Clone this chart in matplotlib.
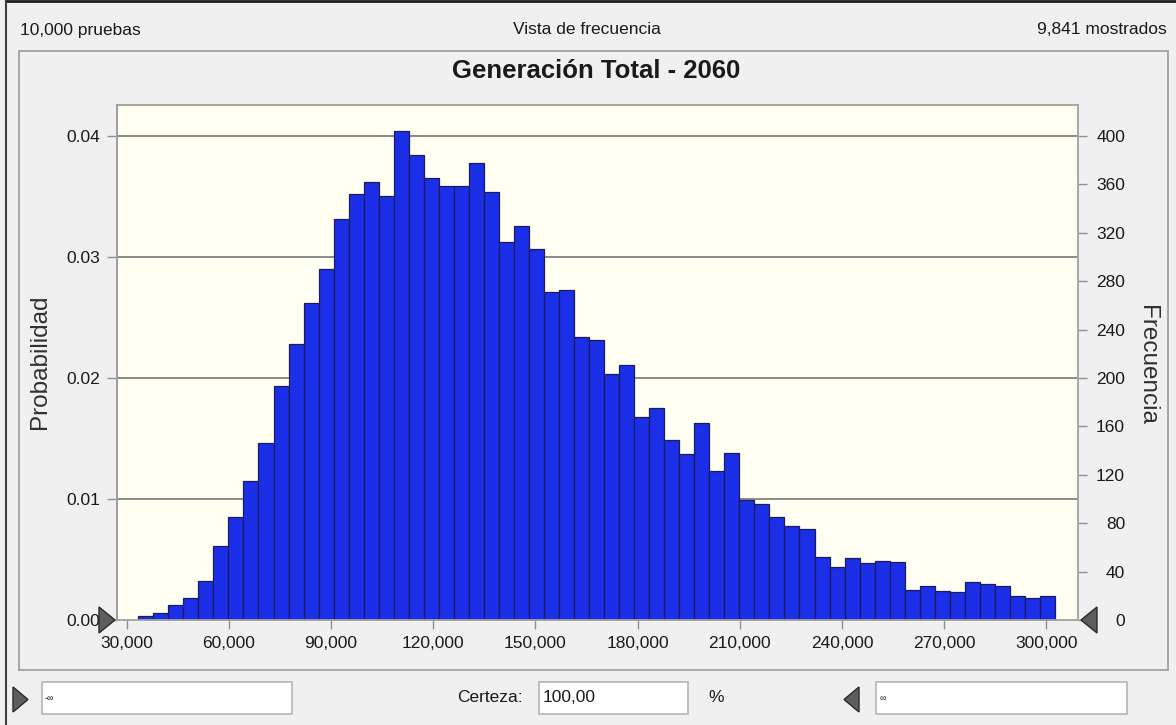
import matplotlib
matplotlib.use("Agg")
import matplotlib.pyplot as plt
import numpy as np
from matplotlib.lines import Line2D
from matplotlib.patches import Polygon, Rectangle

plt.rcParams["font.family"] = ["Liberation Sans", "DejaVu Sans"]

# histogram
trials = 10000
shown = 9841
bin_start = 33400
bin_width = 4412
counts = [3, 6, 12, 18, 32, 61, 85, 115, 146, 193,
          228, 262, 290, 331, 352, 362, 350, 404, 384, 365,
          359, 359, 378, 354, 312, 326, 307, 271, 273, 234,
          231, 203, 211, 168, 175, 149, 137, 163, 123, 138,
          99, 96, 85, 78, 75, 52, 44, 51, 47, 49,
          48, 25, 28, 24, 23, 31, 30, 28, 20, 18, 20]
x_ticks = [30000, 60000, 90000, 120000, 150000, 180000, 210000, 240000, 270000, 300000]
freq_ticks = [0, 40, 80, 120, 160, 200, 240, 280, 320, 360, 400]
prob_ticks = [0.0, 0.01, 0.02, 0.03, 0.04]
grid_counts = [100, 200, 300, 400]
title = "Generación Total - 2060"
certainty = "100,00"

W, H = 1176, 725
BG, GRAY, TXT = "#f0f0f0", "#a0a0a0", "#1a1a1a"


def fx(x):
    return x / W


def fy(y):
    return 1 - y / H


fig = plt.figure(figsize=(W / 100, H / 100), dpi=100, facecolor=BG)

# window frame + inner panel
fig.add_artist(Line2D([fx(6), 1], [fy(1), fy(1)], color="#202020", lw=2))
fig.add_artist(Line2D([fx(6), fx(6)], [fy(1), 0], color="#404040", lw=1.5))
fig.add_artist(Rectangle((fx(19), fy(670)), (1168 - 19) / W, (670 - 51) / H,
                         fill=False, edgecolor=GRAY, lw=1.3))

# header
fig.text(fx(20), fy(30), f"{trials:,} pruebas", ha="left", va="center", size=12.5, color=TXT)
fig.text(fx(587), fy(30), "Vista de frecuencia", ha="center", va="center", size=12.5, color=TXT)
fig.text(fx(1167), fy(30), f"{shown:,} mostrados", ha="right", va="center", size=12.5, color=TXT)
fig.text(fx(596), fy(71), title, ha="center", va="center", size=18.5,
         weight="bold", color=TXT)

# main histogram
ax = fig.add_axes([fx(116.7), fy(620), (1078 - 116.7) / W, (620 - 105) / H])
ax.set_facecolor("#fffff2")
edges = bin_start + bin_width * np.arange(len(counts))
ax.bar(edges, counts, width=bin_width, align="edge", color="#1b2fe8",
       edgecolor="#1c1c5c", linewidth=0.9, zorder=2)
for c in grid_counts:
    ax.axhline(c, color="#8a8a8a", lw=1.4, zorder=1)
ax.set_xlim(27064, 309300)
ax.set_ylim(0, 425.6)
for s in ax.spines.values():
    s.set_color(GRAY)
    s.set_linewidth(1.3)

ax.set_xticks(x_ticks)
ax.set_xticklabels([f"{v:,}" for v in x_ticks])
ax.tick_params(axis="x", length=6.5, width=1, color="#909090", pad=5,
               labelsize=12.5, labelcolor=TXT)

ax.yaxis.tick_right()
ax.set_yticks(freq_ticks)
ax.set_yticklabels([str(v) for v in freq_ticks])
ax.tick_params(axis="y", length=6.5, width=1, color="#909090", pad=27.4,
               labelsize=12.5, labelcolor=TXT)
for lab in ax.get_yticklabels():
    lab.set_horizontalalignment("right")

sec = ax.secondary_yaxis("left", functions=(lambda c: c / trials, lambda p: p * trials))
sec.set_yticks(prob_ticks)
sec.set_yticklabels([f"{p:.2f}" for p in prob_ticks])
sec.tick_params(length=7.2, width=1, color="#909090", pad=5, labelsize=12.5,
                labelcolor=TXT)
sec.spines["left"].set_color(GRAY)
sec.spines["left"].set_linewidth(1.3)

fig.text(fx(40), fy(362), "Probabilidad", rotation=90, ha="center", va="center",
         size=17.5, color="#303030")
fig.text(fx(1147), fy(365), "Frecuencia", rotation=-90, ha="center", va="center",
         size=17.5, color="#303030")

# grabbers on the axis ends
tri_kw = dict(transform=fig.transFigure, facecolor="#5e5e5e", edgecolor="#2a2a2a",
              lw=1, zorder=10)
fig.add_artist(Polygon([(fx(99), fy(607)), (fx(99), fy(633)), (fx(115), fy(620))], **tri_kw))
fig.add_artist(Polygon([(fx(1097), fy(607)), (fx(1097), fy(633)), (fx(1081), fy(620))], **tri_kw))

# bottom controls
fig.add_artist(Polygon([(fx(13), fy(687)), (fx(13), fy(712)), (fx(28), fy(699.5))], **tri_kw))
fig.add_artist(Polygon([(fx(859), fy(687)), (fx(859), fy(712)), (fx(844), fy(699.5))], **tri_kw))
box_kw = dict(transform=fig.transFigure, facecolor="white", edgecolor="#b4b4b4", lw=1.2)
for x0, x1 in [(41.7, 292), (539, 688), (876, 1127)]:
    fig.add_artist(Rectangle((fx(x0), fy(714)), (x1 - x0) / W, 32 / H, **box_kw))
fig.text(fx(45), fy(698), "-∞", ha="left", va="center", size=6.5, color=TXT)
fig.text(fx(880), fy(698), "∞", ha="left", va="center", size=6.5, color=TXT)
fig.text(fx(523), fy(698), "Certeza:", ha="right", va="center", size=12.5, color=TXT)
fig.text(fx(543), fy(698), certainty, ha="left", va="center", size=12.5, color=TXT)
fig.text(fx(708), fy(698), "%", ha="left", va="center", size=12.5, color=TXT)

fig.savefig("out.png", dpi=100, facecolor=BG)
